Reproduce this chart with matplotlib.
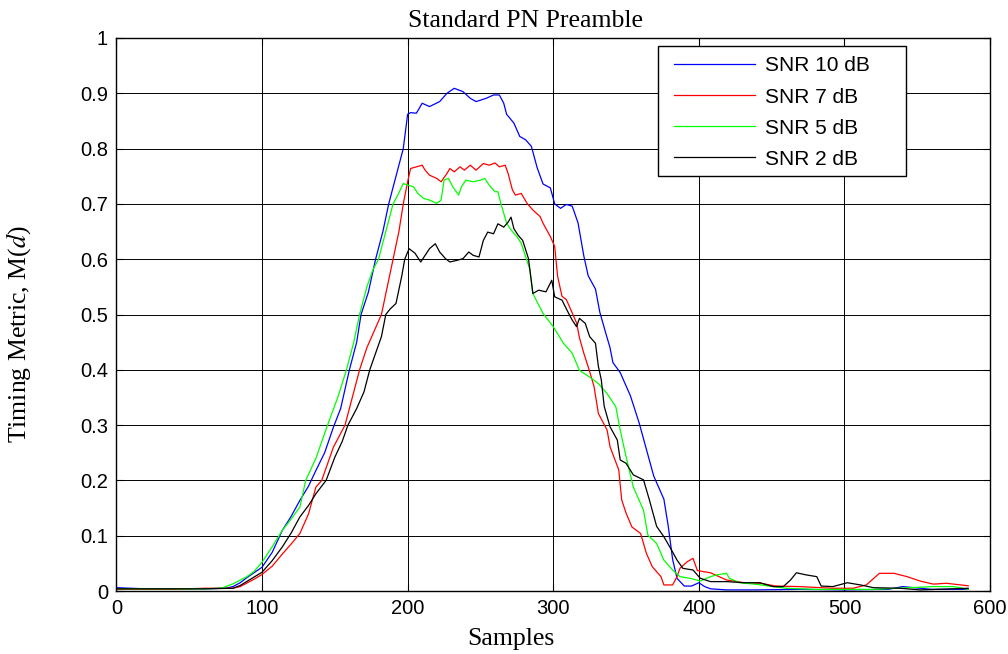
import matplotlib
matplotlib.use("Agg")
import matplotlib.pyplot as plt
from matplotlib.patches import Rectangle

# ---- data ----
blue_x = [0, 20, 40, 60, 75, 80, 85, 90, 95, 100, 107, 114, 120, 126, 132, 137, 143, 149, 154, 160,
          165, 168, 173, 178, 183, 187, 192, 197, 200, 202, 206, 210, 215, 222, 227, 232, 238, 243, 247, 254,
          259, 263, 266, 268, 273, 277, 281, 285, 289, 293, 298, 301, 305, 309, 313, 317, 321, 324, 329, 332,
          336, 339, 341, 346, 353, 359, 364, 369, 376, 379, 382, 385, 390, 395, 400, 404, 408, 419, 440, 470,
          500, 530, 540, 560, 585]
blue_y = [0.006, 0.004, 0.004, 0.004, 0.005, 0.008, 0.015, 0.025, 0.034, 0.043, 0.07, 0.11, 0.135, 0.164, 0.19, 0.218, 0.25, 0.296, 0.33, 0.4,
          0.45, 0.5, 0.54, 0.6, 0.65, 0.7, 0.75, 0.8, 0.862, 0.865, 0.864, 0.882, 0.876, 0.885, 0.900, 0.909, 0.903, 0.891, 0.885, 0.891,
          0.897, 0.897, 0.882, 0.862, 0.846, 0.822, 0.816, 0.804, 0.765, 0.736, 0.729, 0.700, 0.692, 0.699, 0.696, 0.666, 0.606, 0.570, 0.546, 0.504,
          0.467, 0.440, 0.413, 0.395, 0.353, 0.304, 0.256, 0.208, 0.166, 0.117, 0.057, 0.023, 0.009, 0.009, 0.015, 0.008, 0.004, 0.002, 0.002, 0.003,
          0.002, 0.003, 0.008, 0.003, 0.003]

red_x = [0, 40, 60, 80, 85, 90, 95, 100, 107, 114, 120, 126, 132, 137, 141, 149, 157, 162, 167, 172,
         177, 182, 186, 190, 194, 197, 200, 202, 206, 210, 212, 215, 220, 223, 227, 229, 232, 236, 239, 243,
         247, 252, 256, 260, 263, 267, 269, 272, 274, 278, 282, 286, 291, 293, 298, 301, 303, 306, 309, 313,
         316, 318, 321, 325, 328, 331, 337, 339, 345, 347, 350, 354, 360, 364, 368, 371, 374, 376, 382, 385,
         387, 392, 396, 399, 408, 419, 431, 442, 453, 469, 492, 506, 515, 524, 534, 543, 552, 561, 570, 585]
red_y = [0.003, 0.003, 0.005, 0.005, 0.008, 0.015, 0.022, 0.03, 0.045, 0.067, 0.085, 0.104, 0.14, 0.188, 0.2, 0.26, 0.3, 0.35, 0.4, 0.44,
         0.47, 0.5, 0.55, 0.6, 0.65, 0.7, 0.74, 0.764, 0.767, 0.770, 0.761, 0.752, 0.746, 0.740, 0.755, 0.764, 0.758, 0.767, 0.761, 0.770,
         0.761, 0.773, 0.770, 0.774, 0.767, 0.770, 0.755, 0.725, 0.716, 0.719, 0.701, 0.689, 0.677, 0.665, 0.641, 0.623, 0.569, 0.533, 0.527, 0.503,
         0.485, 0.458, 0.43, 0.397, 0.37, 0.321, 0.291, 0.261, 0.219, 0.165, 0.141, 0.116, 0.104, 0.068, 0.044, 0.035, 0.026, 0.011, 0.011, 0.026,
         0.041, 0.053, 0.059, 0.037, 0.033, 0.020, 0.015, 0.014, 0.009, 0.008, 0.005, 0.005, 0.011, 0.032, 0.032, 0.026, 0.018, 0.0125, 0.014, 0.0095]

green_x = [0, 40, 60, 72, 80, 89, 94, 100, 107, 114, 120, 126, 130, 137, 145, 152, 158, 163, 167, 172,
           176, 180, 185, 190, 194, 197, 200, 204, 207, 211, 215, 220, 223, 225, 228, 231, 235, 237, 240, 245,
           250, 253, 256, 260, 262, 264, 268, 271, 275, 278, 281, 284, 286, 293, 300, 307, 313, 318, 325, 331,
           337, 343, 346, 350, 355, 362, 365, 371, 376, 382, 387, 394, 401, 408, 412, 419, 421, 428, 440, 451,
           460, 480, 520, 561, 575, 585]
green_y = [0.004, 0.004, 0.004, 0.005, 0.013, 0.025, 0.034, 0.052, 0.08, 0.11, 0.13, 0.152, 0.2, 0.24, 0.3, 0.35, 0.4, 0.45, 0.5, 0.55,
           0.58, 0.6, 0.65, 0.70, 0.72, 0.737, 0.734, 0.731, 0.719, 0.710, 0.707, 0.701, 0.707, 0.743, 0.746, 0.731, 0.716, 0.731, 0.743, 0.740,
           0.743, 0.746, 0.734, 0.722, 0.722, 0.701, 0.665, 0.653, 0.641, 0.629, 0.605, 0.581, 0.538, 0.502, 0.478, 0.448, 0.430, 0.399, 0.387, 0.375,
           0.357, 0.333, 0.291, 0.243, 0.188, 0.146, 0.101, 0.086, 0.056, 0.038, 0.026, 0.023, 0.018, 0.026, 0.029, 0.032, 0.023, 0.015, 0.012, 0.008,
           0.005, 0.003, 0.003, 0.008, 0.008, 0.003]

black_x = [0, 40, 60, 80, 85, 90, 95, 100, 107, 114, 120, 126, 132, 137, 144, 150, 155, 159, 165, 170,
           174, 178, 182, 185, 188, 192, 196, 198, 201, 205, 209, 212, 215, 219, 222, 226, 229, 234, 238, 242,
           245, 249, 252, 255, 259, 262, 266, 269, 271, 273, 276, 279, 283, 286, 290, 295, 299, 301, 306, 310,
           313, 316, 318, 322, 325, 329, 331, 333, 335, 339, 344, 346, 350, 355, 362, 366, 371, 376, 380, 385,
           389, 396, 401, 408, 419, 431, 442, 451, 458, 463, 467, 474, 481, 484, 492, 502, 511, 520, 538, 552, 585]
black_y = [0.004, 0.004, 0.004, 0.005, 0.01, 0.018, 0.026, 0.034, 0.055, 0.08, 0.105, 0.134, 0.155, 0.176, 0.2, 0.242, 0.27, 0.3, 0.33, 0.36,
           0.4, 0.43, 0.46, 0.5, 0.51, 0.52, 0.57, 0.6, 0.619, 0.611, 0.595, 0.607, 0.619, 0.628, 0.613, 0.601, 0.595, 0.598, 0.601, 0.613,
           0.607, 0.604, 0.634, 0.649, 0.646, 0.664, 0.658, 0.667, 0.676, 0.655, 0.643, 0.634, 0.601, 0.538, 0.544, 0.541, 0.562, 0.532, 0.526, 0.505,
           0.490, 0.478, 0.493, 0.484, 0.460, 0.448, 0.406, 0.382, 0.334, 0.297, 0.273, 0.237, 0.231, 0.210, 0.201, 0.165, 0.117, 0.098, 0.080, 0.056,
           0.041, 0.038, 0.023, 0.017, 0.017, 0.015, 0.015, 0.008, 0.008, 0.020, 0.033, 0.029, 0.026, 0.009, 0.008, 0.015, 0.011, 0.006, 0.005, 0.002, 0.005]

labels = ["SNR 10 dB", "SNR 7 dB", "SNR 5 dB", "SNR 2 dB"]
colors = ["#0000FF", "#FF0000", "#00FF00", "#000000"]
x_ticks = [0, 100, 200, 300, 400, 500, 600]
y_ticks = [0, 0.1, 0.2, 0.3, 0.4, 0.5, 0.6, 0.7, 0.8, 0.9, 1]
y_ticklabels = ["0", "0.1", "0.2", "0.3", "0.4", "0.5", "0.6", "0.7", "0.8", "0.9", "1"]

plt.rcParams["mathtext.fontset"] = "stix"
serif = "Liberation Serif"
sans = "Liberation Sans"

fig = plt.figure(figsize=(10.08, 6.54), dpi=100)
ax = fig.add_axes([0.1155, 0.0963, 0.8667, 0.8456])

series = [(blue_x, blue_y), (red_x, red_y), (green_x, green_y), (black_x, black_y)]
for (xs, ys), lab, col in zip(series, labels, colors):
    ax.plot(xs, ys, color=col, lw=0.9, label=lab)

ax.set_xlim(0, 600)
ax.set_ylim(0, 1)
ax.set_xticks(x_ticks)
ax.set_yticks(y_ticks)
ax.set_yticklabels(y_ticklabels)
ax.grid(True, color="black", lw=0.7, ls="-")
ax.set_axisbelow(True)
ax.tick_params(direction="in", top=True, right=True, length=5, width=0.8, labelsize=14.5, pad=6)
for lbl in ax.get_xticklabels() + ax.get_yticklabels():
    lbl.set_fontfamily(sans)
for sp in ax.spines.values():
    sp.set_linewidth(1.0)

ax.set_title("Standard PN Preamble", fontsize=18.5, fontfamily=serif, pad=8, x=0.4677)
ax.set_xlabel("Samples", fontsize=18.5, fontfamily=serif)
ax.xaxis.set_label_coords(0.4516, -0.0976)
ax.xaxis.label.set_verticalalignment("baseline")
ax.set_ylabel("Timing Metric, M($d$)", fontsize=18.5, fontfamily=serif)
ax.yaxis.set_label_coords(-0.0956, 0.4647)

# legend frame drawn as a box, legend entries placed inside it
ax.add_patch(Rectangle((0.620, 0.7505), 0.284, 0.2351, transform=ax.transAxes,
                       facecolor="white", edgecolor="black", lw=1.0, zorder=4.5))
leg = ax.legend(loc="upper left", bbox_to_anchor=(0.6382, 0.9666), frameon=False,
                borderaxespad=0, borderpad=0, handlelength=3.9, handletextpad=0.45,
                labelspacing=0.58, prop={"family": sans, "size": 15})

fig.savefig("out.png", dpi=100)
